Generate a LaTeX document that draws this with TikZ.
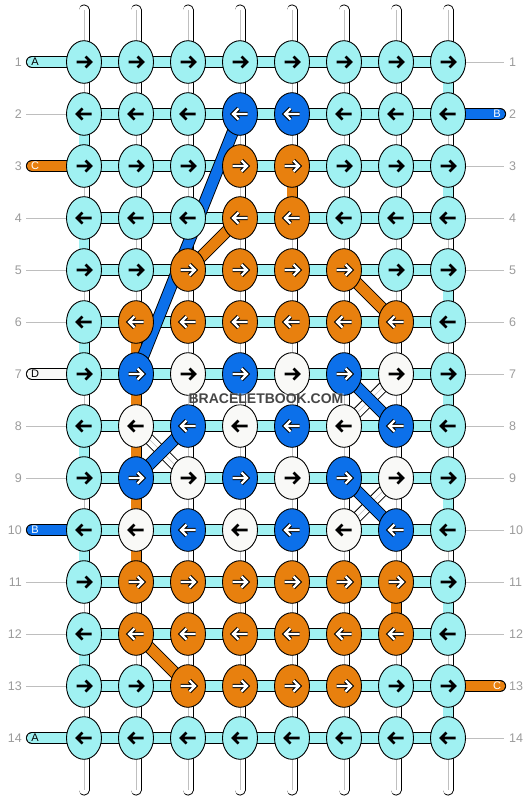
\documentclass[tikz,border=0pt]{standalone}
\usepackage{fontspec}
\setmainfont{Liberation Sans}
\usetikzlibrary{shapes.geometric}
\definecolor{cy}{RGB}{160,241,242}
\definecolor{og}{RGB}{232,128,14}
\definecolor{bl}{RGB}{12,112,234}
\definecolor{wh}{RGB}{249,249,247}
\definecolor{lb}{RGB}{155,155,155}
\definecolor{gl}{RGB}{190,190,190}
\definecolor{wmc}{RGB}{70,70,70}
\pgfdeclarelayer{bg}
\pgfdeclarelayer{fg}
\pgfsetlayers{bg,main,fg}
\tikzset{
  knot/.style={ellipse, draw=black, line width=0.9pt, minimum width=35pt, minimum height=42.6pt, inner sep=0pt},
  kC/.style={knot, fill=cy}, kO/.style={knot, fill=og}, kB/.style={knot, fill=bl}, kW/.style={knot, fill=wh},
  hbar/.style={line cap=round, draw=black, line width=0.9pt, double=#1, double distance=10.4pt},
  vbar/.style={line cap=round, draw=black, line width=0.9pt, double=#1, double distance=9.2pt},
  dbar/.style={line cap=round, draw=black, line width=0.9pt, double=#1, double distance=10.4pt},
  wout/.style={line cap=round, draw=black, line width=0.9pt, double=white, double distance=9.2pt},
  wmid/.style={draw=black!25, line width=0.6pt},
  guide/.style={draw=gl, line width=0.7pt},
  num/.style={text=lb, font=\fontsize{12.5}{14}\selectfont, inner sep=0pt},
  tag/.style={font=\fontsize{11}{12}\selectfont, inner sep=0pt},
  arrC/.pic={\draw[black, line width=2.8pt, line join=miter] ({-7.5*(#1)},0) -- ({6*(#1)},0) ({1.5*(#1)},-5.5) -- ({7*(#1)},0) -- ({1.5*(#1)},5.5);},
  arrW/.pic={\draw[black, line width=2.8pt, line join=miter] ({-7.5*(#1)},0) -- ({6*(#1)},0) ({1.5*(#1)},-5.5) -- ({7*(#1)},0) -- ({1.5*(#1)},5.5);},
  arrO/.pic={\draw[black, line width=4.4pt, line join=miter] ({-7.5*(#1)},0) -- ({6*(#1)},0) ({1.5*(#1)},-5.5) -- ({7*(#1)},0) -- ({1.5*(#1)},5.5);
             \draw[white, line width=2.4pt, line join=miter] ({-7.5*(#1)},0) -- ({6*(#1)},0) ({1.5*(#1)},-5.5) -- ({7*(#1)},0) -- ({1.5*(#1)},5.5);},
  arrB/.pic={\draw[black, line width=4.4pt, line join=miter] ({-7.5*(#1)},0) -- ({6*(#1)},0) ({1.5*(#1)},-5.5) -- ({7*(#1)},0) -- ({1.5*(#1)},5.5);
             \draw[white, line width=2.4pt, line join=miter] ({-7.5*(#1)},0) -- ({6*(#1)},0) ({1.5*(#1)},-5.5) -- ({7*(#1)},0) -- ({1.5*(#1)},5.5);},
}
\begin{document}
\begin{tikzpicture}[x=1pt,y=-1pt]
\useasboundingbox (0,0) rectangle (532,800);
% knots
\foreach \k [count=\i from 0] in {
 C,C,C,C,C,C,C,C,
 C,C,C,B,B,C,C,C,
 C,C,C,O,O,C,C,C,
 C,C,C,O,O,C,C,C,
 C,C,O,O,O,O,C,C,
 C,O,O,O,O,O,O,C,
 C,B,W,B,W,B,W,C,
 C,W,B,W,B,W,B,C,
 C,B,W,B,W,B,W,C,
 C,W,B,W,B,W,B,C,
 C,O,O,O,O,O,O,C,
 C,O,O,O,O,O,O,C,
 C,C,O,O,O,O,C,C,
 C,C,C,C,C,C,C,C}{
  \pgfmathtruncatemacro\r{int(\i/8)+1}
  \pgfmathtruncatemacro\c{mod(\i,8)+1}
  \pgfmathtruncatemacro\s{1-2*mod(\r+1,2)}
  \pgfmathsetmacro\xx{84+52*(\c-1)}
  \pgfmathsetmacro\yy{62+52*(\r-1)}
  \edef\tmp{\noexpand\node[k\k] (k-\r-\c) at (\xx,\yy) {};
    \noexpand\pic at (k-\r-\c) {arr\k=\s};}
  \tmp
}
% end coordinates
\foreach \c in {1,...,8}{
  \pgfmathsetmacro\xx{84+52*(\c-1)}
  \coordinate (top-\c) at (\xx,10);
  \coordinate (bot-\c) at (\xx,790);
}
\foreach \r in {1,...,14}{
  \pgfmathsetmacro\yy{62+52*(\r-1)}
  \coordinate (sl-\r) at (32,\yy);
  \coordinate (sr-\r) at (500,\yy);
  \coordinate (gl-\r) at (26,\yy);
  \coordinate (gr-\r) at (504,\yy);
  \node[num, anchor=east] (ln-\r) at (22,\yy) {\r};
  \node[num, anchor=west] (rn-\r) at (509,\yy) {\r};
}
\begin{pgfonlayer}{bg}
  % white vertical strands
  \foreach \c in {1,...,8}{
    \draw[wout] (top-\c) -- (bot-\c);
    \draw[wmid] (top-\c) -- (bot-\c);
  }
  % coloured vertical links
  \foreach \r/\c/\col in {1/8/cy,3/8/cy,5/8/cy,7/8/cy,9/8/cy,11/8/cy,13/8/cy,
      2/1/cy,4/1/cy,6/1/cy,8/1/cy,10/1/cy,12/1/cy,
      3/5/og,6/2/og,7/2/og,8/2/og,9/2/og,10/2/og,11/7/og}{
    \pgfmathtruncatemacro\n{\r+1}
    \draw[vbar=\col] (k-\r-\c.center) -- (k-\n-\c.center);
  }
  % horizontal rows
  \foreach \r in {1,...,14}
    \draw[hbar=cy] (k-\r-1.center) -- (k-\r-8.center);
  % guide lines
  \foreach \r in {2,4,5,6,8,9,11,12,13}
    \draw[guide] (gl-\r) -- (k-\r-1.center);
  \foreach \r in {1,3,4,5,6,7,8,9,10,11,12,14}
    \draw[guide] (k-\r-8.center) -- (gr-\r);
  % side strands
  \foreach \r/\col in {1/cy,3/og,7/wh,10/bl,14/cy}
    \draw[hbar=\col] (sl-\r) -- (k-\r-1.center);
  \foreach \r/\col in {2/bl,13/og}
    \draw[hbar=\col] (k-\r-8.center) -- (sr-\r);
  % white diagonals
  \foreach \a/\b in {k-7-7/k-8-6, k-8-2/k-9-3, k-9-7/k-10-6}{
    \draw[wout] (\a.center) -- (\b.center);
    \draw[wmid] (\a.center) -- (\b.center);
  }
  % coloured diagonals
  \draw[dbar=bl] (k-2-4.center) -- (k-7-2.center);
  \draw[dbar=og] (k-4-4.center) -- (k-5-3.center);
  \draw[dbar=og] (k-5-6.center) -- (k-6-7.center);
  \draw[dbar=bl] (k-7-6.center) -- (k-8-7.center);
  \draw[dbar=bl] (k-8-3.center) -- (k-9-2.center);
  \draw[dbar=bl] (k-9-6.center) -- (k-10-7.center);
  \draw[dbar=og] (k-12-2.center) -- (k-13-3.center);
\end{pgfonlayer}
% strand letters
\node[tag, text=black] (ta-1) at (35,62) {A};
\node[tag, text=white] (ta-3) at (35,166) {C};
\node[tag, text=black] (ta-7) at (35,374) {D};
\node[tag, text=white] (ta-10) at (35,530) {B};
\node[tag, text=black] (ta-14) at (35,738) {A};
\node[tag, text=white] (tb-2) at (497,114) {B};
\node[tag, text=white] (tb-13) at (497,686) {C};
\begin{pgfonlayer}{fg}
  \node[font=\bfseries\fontsize{14}{16}\selectfont, text=wmc, fill=white, fill opacity=0.3, text opacity=1, inner sep=1pt] (wm) at (266,399) {BRACELETBOOK.COM};
\end{pgfonlayer}
\end{tikzpicture}
\end{document}
